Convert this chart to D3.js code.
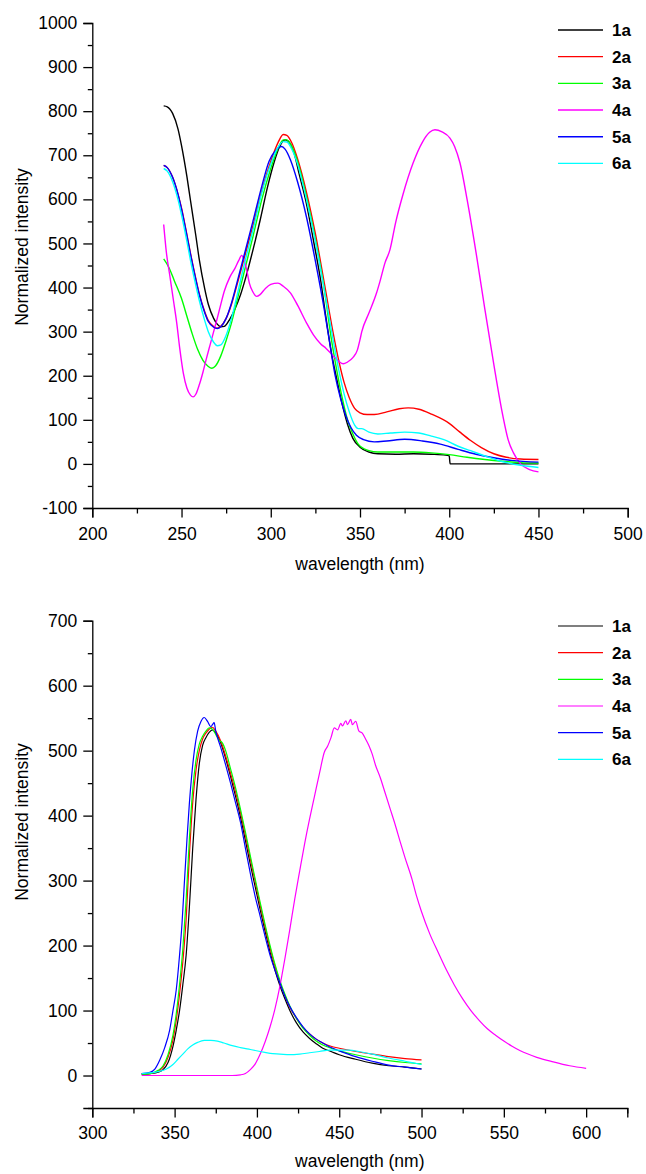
<!DOCTYPE html>
<html>
<head>
<meta charset="utf-8">
<script src="https://cdn.jsdelivr.net/npm/d3@7"></script>
<style>
  body { margin: 0; background: #fff; }
  svg text { font-family: "Liberation Sans", Arial, sans-serif; fill: #000; }
  .axis path, .axis line { stroke: #000; stroke-width: 1.3; }
</style>
</head>
<body>
<svg id="chart" width="646" height="1174"></svg>
<script>
// series names and colours (same for both panels)
var names = ["1a", "2a", "3a", "4a", "5a", "6a"];
var colours = ["#000000", "#ff0000", "#00ff00", "#ff00ff", "#0000ff", "#00ffff"];

// ---- top panel: absorption, [wavelength, intensity]
var abs1a = [[240,812],[242,810],[245,795],[248,760],[250,722],[253,652],[255,598],[258,518],[260,462],[263,397],[265,362],[268,330],[270,317],[272,311],[274,312],[277,328],[280,352],[283,383],[286,423],[290,485],[294,552],[298,625],[302,686],[305,720],[308,735],[310,731],[313,706],[316,656],[320,590],[324,505],[328,415],[331,330],[334,252],[337,192],[340,136],[343,90],[346,58],[350,38],[355,27],[360,23],[370,22],[380,23],[390,22],[398,20],[400,18],[400.5,0],[450,0]];
var abs2a = [[240,677],[242,672],[245,650],[248,612],[250,580],[253,520],[255,478],[258,420],[260,385],[263,345],[265,325],[268,312],[270,308],[272,312],[275,330],[278,362],[281,405],[285,465],[290,540],[295,620],[300,686],[304,728],[307,747],[309,745],[312,726],[315,692],[320,616],[325,522],[330,410],[335,296],[338,236],[341,186],[344,150],[347,126],[350,116],[354,112],[358,112],[365,118],[372,125],[377,127],[383,124],[390,113],[400,92],[406,72],[412,53],[418,37],[425,23],[432,15],[440,11],[450,10]];
var abs3a = [[240,465],[243,445],[246,415],[250,375],[253,335],[256,295],[259,260],[262,235],[265,221],[267,217],[269,222],[272,245],[275,280],[278,320],[282,385],[286,450],[290,515],[295,600],[300,670],[304,715],[307,735],[309,735],[312,718],[315,686],[320,606],[325,510],[330,396],[334,282],[337,212],[340,150],[343,100],[346,68],[349,45],[352,35],[355,30],[360,27],[370,27],[380,27],[390,25],[400,21],[410,15],[420,10],[430,6],[440,3],[450,2]];
var abs4a = [[240,543],[241.5,480],[243.5,425],[245.5,370],[247.3,320],[249,262],[251,206],[253,172],[255,156],[256.5,152],[258,158],[260,180],[262,208],[264,240],[266,270],[268,300],[270,330],[272,362],[274,392],[277,423],[280,444],[282,461],[283.7,473],[285,463],[286.5,440],[288,410],[290,390],[292,380],[294,384],[297,398],[300,407],[304,410],[307,403],[311,388],[315,360],[320,320],[324,292],[328,272],[331,262],[335,245],[338,233],[340.6,227],[343,231],[346,241],[348.5,258],[350,282],[351,300],[355,342],[359.3,388],[361.2,414],[364,456],[366.8,486],[370,548],[374,610],[379.8,683],[385,730],[389,752],[392,758],[396,753],[400.4,739],[403,720],[406,683],[410,600],[415,480],[420,350],[425,225],[430,110],[433,55],[436,25],[440,0],[445,-13],[450,-18]];
var abs5a = [[240,677],[242,672],[245,650],[248,612],[250,578],[253,518],[255,476],[258,418],[260,383],[263,343],[265,323],[268,310],[270,307],[272,311],[275,330],[278,365],[281,410],[285,472],[290,550],[295,630],[299,686],[303,712],[306,720],[308,714],[311,690],[315,640],[320,560],[325,460],[330,350],[333,275],[336,202],[339,150],[342,110],[345,82],[348,65],[352,55],[358,50],[365,52],[375,56],[385,52],[395,45],[405,33],[415,22],[425,14],[435,8],[450,4]];
var abs6a = [[240,670],[242,664],[245,640],[248,600],[250,565],[253,505],[255,462],[258,405],[260,370],[263,325],[265,300],[268,276],[270,268],[272,270],[275,292],[278,330],[281,380],[285,450],[290,530],[295,615],[300,680],[304,718],[307,731],[309,730],[312,712],[315,680],[320,600],[325,505],[330,395],[335,280],[338,215],[341,160],[344,118],[347,88],[349,80],[351,80],[355,72],[360,68],[367,70],[375,72],[383,70],[390,63],[397,55],[405,40],[412,30],[420,18],[430,5],[440,-3],[450,-8]];

// ---- bottom panel: emission, [wavelength, intensity]
var em1a = [[330,2],[335,3],[340,5],[343,9],[346,20],[349,45],[351,70],[353,100],[355,140],[357,185],[359,260],[361,350],[363,425],[365,480],[367,508],[369,520],[371,528],[373,532],[375,527],[378,512],[381,488],[384,460],[387,430],[390,398],[393,362],[396,325],[399,290],[402,255],[405,222],[408,190],[411,162],[414,138],[417,118],[420,100],[424,81],[428,67],[432,57],[436,49],[440,42],[445,37],[450,32],[460,25],[470,19],[480,15],[490,13],[500,10]];
var em2a = [[330,2],[335,3],[340,7],[343,13],[346,28],[349,55],[351,85],[353,125],[355,175],[357,240],[359,340],[361,420],[363,470],[365,500],[367,518],[369,527],[371,533],[373,536],[375,530],[378,515],[381,492],[384,465],[387,437],[390,405],[393,370],[396,333],[399,298],[402,262],[405,228],[408,196],[411,168],[414,143],[417,123],[420,105],[424,88],[428,74],[432,64],[436,56],[440,50],[445,45],[450,42],[460,37],[470,33],[480,29],[490,26],[500,24]];
var em3a = [[330,2],[335,3],[340,8],[343,15],[346,32],[349,62],[351,95],[353,140],[355,195],[357,270],[359,365],[361,440],[363,485],[365,510],[367,522],[369,530],[371,535],[373,533],[375,525],[377,516],[379,512],[381,500],[384,472],[387,443],[390,410],[393,375],[396,338],[399,302],[402,266],[405,232],[408,200],[411,171],[414,146],[417,125],[420,107],[424,88],[428,73],[432,62],[436,53],[440,47],[445,42],[450,38],[460,32],[470,27],[480,23],[490,20],[500,18]];
var em4a = [[330,0],[350,0],[370,0],[385,0],[390,1],[393,3],[396,9],[399,18],[402,33],[405,52],[408,75],[411,103],[414,138],[417,180],[420,225],[423,272],[426,315],[429,357],[432,395],[435,430],[438,465],[441,498],[443,507],[445,520],[447,535],[449,532],[451,542],[452,538],[454,546],[455,540],[457,548],[458,540],[460,545],[462,530],[464,527],[466,518],[468,508],[470,495],[472,478],[475,458],[478,434],[481,410],[484,386],[487,360],[490,335],[494,304],[497,276],[500,252],[505,218],[510,190],[515,163],[520,139],[525,118],[530,100],[535,85],[540,72],[545,62],[550,53],[555,45],[560,38],[570,28],[580,21],[590,15],[600,11]];
var em5a = [[330,3],[335,5],[338,10],[341,24],[344,43],[347,70],[349,100],[351,132],[353,185],[354.5,234],[356,300],[357.5,363],[359,420],[360.5,465],[362,500],[364,530],[366,545],[368,551],[370,545],[372,537],[373,540],[374,543],[375,530],[378,505],[381,478],[384,450],[387,420],[390,390],[393,350],[396,311],[399,275],[402,245],[404,224],[408,185],[411,162],[414,142],[417,122],[420,106],[424,89],[428,75],[432,64],[436,56],[440,50],[445,43],[450,38],[460,29],[470,22],[480,16],[490,13],[500,10]];
var em6a = [[330,3],[335,4],[340,6],[345,10],[349,17],[352,25],[355,33],[358,41],[361,47],[364,51],[368,54],[372,54],[376,53],[380,50],[385,46],[390,43],[396,40],[402,37],[408,34],[414,33],[420,32],[426,33],[432,35],[438,37],[444,39],[450,39],[456,39],[462,37],[470,33],[480,27],[490,22],[500,17]];

// axis ticks
var topXTicks = [200, 250, 300, 350, 400, 450, 500];
var topYTicks = [-100, 0, 100, 200, 300, 400, 500, 600, 700, 800, 900, 1000];
var botXTicks = [300, 350, 400, 450, 500, 550, 600];
var botYTicks = [0, 100, 200, 300, 400, 500, 600, 700];

var svg = d3.select("#chart");

// plain labels: no thousands comma, ascii hyphen for negatives
var plain = function(d) { return String(d); };

function drawPanel(opt) {
    var g = svg.append("g");

    var x = d3.scaleLinear().domain(opt.xDomain).range([92.3, opt.xEnd]);
    var y = d3.scaleLinear().domain(opt.yDomain).range([opt.yBottom, opt.yTop]);

    // minor ticks between the labelled ones
    var xMinor = d3.range(opt.xDomain[0] + 25, opt.xDomain[1] + 1, 50);
    var yMinor = d3.range(opt.yDomain[0] + 50, opt.yDomain[1], 100);
    if (opt.yDomain[0] % 100 !== 0) yMinor = d3.range(opt.yDomain[0], opt.yDomain[1], 100);

    g.append("g")
        .attr("class", "axis")
        .attr("transform", "translate(0," + opt.yBottom + ")")
        .call(d3.axisBottom(x).tickValues(xMinor).tickSize(5.5).tickFormat(""))
        .select(".domain").remove();

    var xAxis = g.append("g")
        .attr("class", "axis")
        .attr("transform", "translate(0," + opt.yBottom + ")")
        .call(d3.axisBottom(x).tickValues(opt.xTicks).tickSizeOuter(0).tickSize(9.5).tickPadding(opt.xPad).tickFormat(plain));
    xAxis.selectAll("text").style("font-size", "17.5px");

    g.append("g")
        .attr("class", "axis")
        .attr("transform", "translate(92.3,0)")
        .call(d3.axisLeft(y).tickValues(yMinor).tickSize(4.5).tickFormat(""))
        .select(".domain").remove();

    var yAxis = g.append("g")
        .attr("class", "axis")
        .attr("transform", "translate(92.3,0)")
        .call(d3.axisLeft(y).tickValues(opt.yTicks).tickSizeOuter(0).tickSize(9).tickPadding(6).tickFormat(plain));
    yAxis.selectAll("text").style("font-size", "17.5px");

    // axis titles
    g.append("text")
        .attr("x", (92.3 + opt.xEnd) / 2)
        .attr("y", opt.yBottom + opt.titleOffset)
        .attr("text-anchor", "middle")
        .style("font-size", "17.5px")
        .text("wavelength (nm)");

    g.append("text")
        .attr("transform", "translate(28," + opt.yTitle + ") rotate(-90)")
        .attr("text-anchor", "middle")
        .style("font-size", "17.5px")
        .text("Normalized intensity");

    var line = d3.line()
        .x(function(d) { return x(d[0]); })
        .y(function(d) { return y(d[1]); })
        .curve(d3.curveMonotoneX);

    opt.series.forEach(function(s, i) {
        g.append("path")
            .datum(s)
            .attr("fill", "none")
            .attr("stroke", colours[i])
            .attr("stroke-width", opt.lineWidth)
            .attr("d", line);
    });

    // legend
    var leg = g.append("g").attr("transform", "translate(0," + opt.legendTop + ")");
    names.forEach(function(n, i) {
        var ly = i * 26.67;
        leg.append("line")
            .attr("x1", 558).attr("x2", 603)
            .attr("y1", ly).attr("y2", ly)
            .attr("stroke", colours[i])
            .attr("stroke-width", opt.lineWidth);
        leg.append("text")
            .attr("x", 612)
            .attr("y", ly)
            .attr("dy", "0.36em")
            .style("font-size", "17px")
            .style("font-weight", "bold")
            .text(n);
    });
}

drawPanel({
    xDomain: [200, 500], xEnd: 627.7, xTicks: topXTicks, xPad: 10,
    yDomain: [-100, 1000], yTop: 23, yBottom: 508, yTicks: topYTicks,
    yTitle: 247, legendTop: 30, lineWidth: 1.4, titleOffset: 62,
    series: [abs1a, abs2a, abs3a, abs4a, abs5a, abs6a]
});

drawPanel({
    xDomain: [300, 625], xEnd: 627.3, xTicks: botXTicks, xPad: 9,
    yDomain: [-50, 700], yTop: 620.7, yBottom: 1108, yTicks: botYTicks,
    yTitle: 822, legendTop: 626, lineWidth: 1.2, titleOffset: 59,
    series: [em1a, em2a, em3a, em4a, em5a, em6a]
});
</script>
</body>
</html>
